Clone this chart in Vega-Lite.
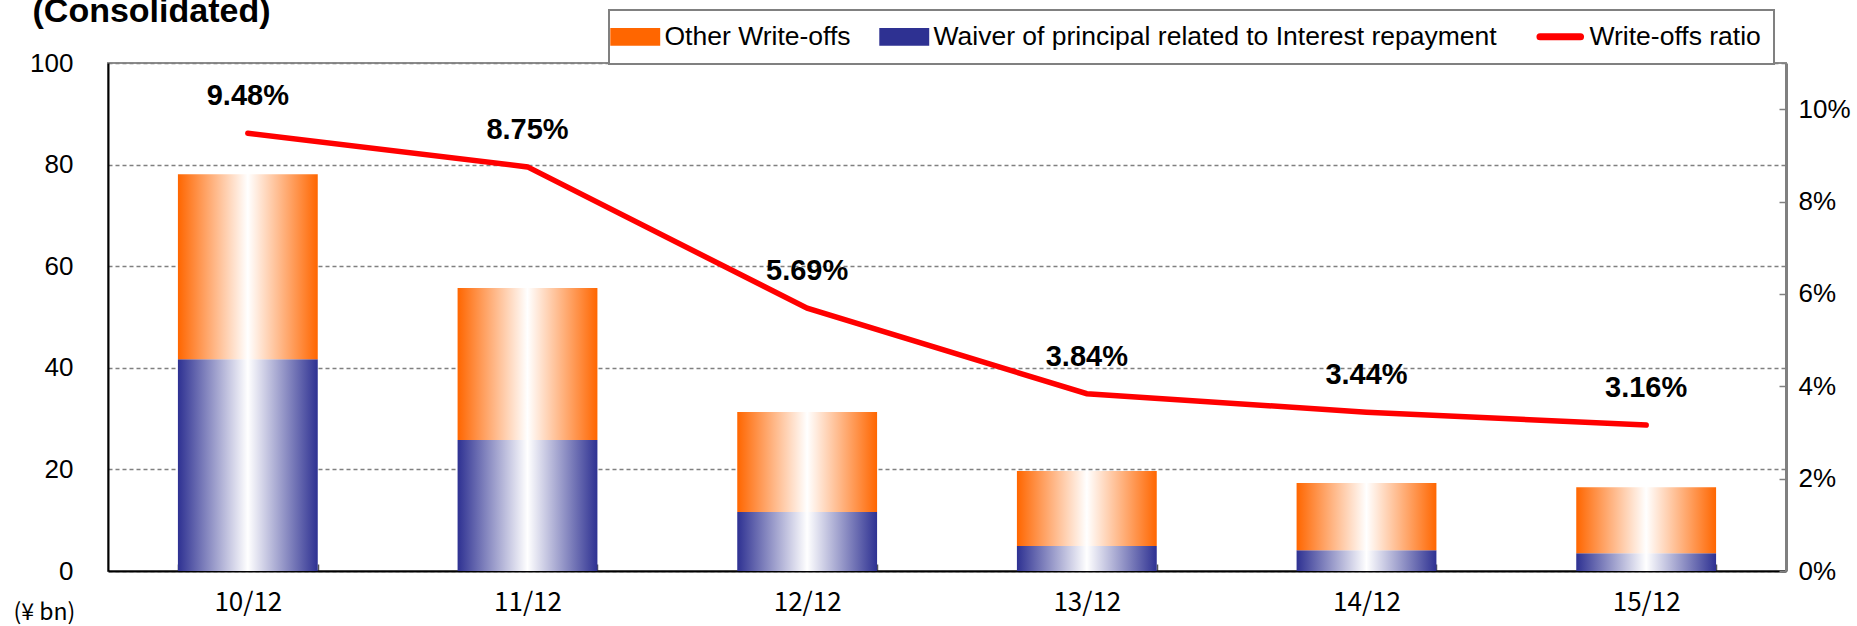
{
  "$schema": "https://vega.github.io/schema/vega-lite/v6.json",
  "width": 1678,
  "height": 508,
  "autosize": {"type": "none"},
  "padding": {"left": 108, "top": 63, "right": 71, "bottom": 55},
  "background": "white",
  "config": {
    "view": {"stroke": "#8c8c8c", "strokeWidth": 2},
    "font": "Liberation Sans"
  },
  "datasets": {
    "bars": [
      {"year": "10/12", "series": "Waiver of principal related to Interest repayment", "value": 41.7},
      {"year": "10/12", "series": "Other Write-offs", "value": 36.4},
      {"year": "11/12", "series": "Waiver of principal related to Interest repayment", "value": 25.8},
      {"year": "11/12", "series": "Other Write-offs", "value": 29.9},
      {"year": "12/12", "series": "Waiver of principal related to Interest repayment", "value": 11.6},
      {"year": "12/12", "series": "Other Write-offs", "value": 19.7},
      {"year": "13/12", "series": "Waiver of principal related to Interest repayment", "value": 4.9},
      {"year": "13/12", "series": "Other Write-offs", "value": 14.8},
      {"year": "14/12", "series": "Waiver of principal related to Interest repayment", "value": 4.1},
      {"year": "14/12", "series": "Other Write-offs", "value": 13.2},
      {"year": "15/12", "series": "Waiver of principal related to Interest repayment", "value": 3.5},
      {"year": "15/12", "series": "Other Write-offs", "value": 13.0}
    ],
    "ratio": [
      {"year": "10/12", "series": "Write-offs ratio", "ratio": 0.0948},
      {"year": "11/12", "series": "Write-offs ratio", "ratio": 0.0875},
      {"year": "12/12", "series": "Write-offs ratio", "ratio": 0.0569},
      {"year": "13/12", "series": "Write-offs ratio", "ratio": 0.0384},
      {"year": "14/12", "series": "Write-offs ratio", "ratio": 0.0344},
      {"year": "15/12", "series": "Write-offs ratio", "ratio": 0.0316}
    ]
  },
  "layer": [
    {
      "data": {"name": "bars"},
      "mark": {"type": "bar"},
      "encoding": {
        "x": {
          "field": "year",
          "type": "nominal",
          "sort": null,
          "scale": {"paddingInner": 0.5, "paddingOuter": 0.25},
          "axis": {
            "title": null,
            "labelAngle": 0,
            "labelFont": "Noto Sans CJK JP",
            "labelFontSize": 26,
            "labelColor": "#000000",
            "labelPadding": 25,
            "tickBand": "extent",
            "tickSize": -7,
            "tickColor": "#555555",
            "tickWidth": 1.5,
            "domainColor": "#000000",
            "domainWidth": 2
          }
        },
        "y": {
          "field": "value",
          "type": "quantitative",
          "aggregate": "sum",
          "stack": "zero",
          "scale": {"domain": [0, 100], "nice": false},
          "axis": {
            "orient": "left",
            "values": [0, 20, 40, 60, 80, 100],
            "title": "(¥ bn)",
            "titleAngle": 0,
            "titleX": -95,
            "titleY": 549,
            "titleAlign": "left",
            "titleBaseline": "middle",
            "titleFont": "Noto Sans CJK JP",
            "titleFontSize": 23,
            "titleFontWeight": "normal",
            "titleColor": "#000000",
            "labelFont": "Liberation Sans",
            "labelFontSize": 26,
            "labelColor": "#000000",
            "labelPadding": 35,
            "ticks": false,
            "domainColor": "#000000",
            "domainWidth": 2,
            "grid": true,
            "gridDash": [4, 3],
            "gridColor": "#808080",
            "gridWidth": 1.5
          }
        },
        "color": {
          "field": "series",
          "type": "nominal",
          "condition": [
            {"test": "datum.series === 'Other Write-offs'", "value": {"gradient": "linear", "x1": 0, "y1": 0, "x2": 1, "y2": 0, "stops": [{"offset": 0, "color": "#FF6600"}, {"offset": 0.5, "color": "#FFFFFF"}, {"offset": 1, "color": "#FF6600"}]}},
            {"test": "datum.series === 'Waiver of principal related to Interest repayment'", "value": {"gradient": "linear", "x1": 0, "y1": 0, "x2": 1, "y2": 0, "stops": [{"offset": 0, "color": "#2E3192"}, {"offset": 0.5, "color": "#FFFFFF"}, {"offset": 1, "color": "#2E3192"}]}}
          ],
          "scale": {
            "domain": ["Other Write-offs", "Waiver of principal related to Interest repayment", "Write-offs ratio"],
            "range": ["#FF6600", "#2E3192", "#FF0000"]
          },
          "legend": {
            "orient": "none",
            "legendX": 501,
            "legendY": -53,
            "direction": "horizontal",
            "columns": 3,
            "title": null,
            "symbolSize": 2704,
            "labelFont": "Liberation Sans",
            "labelFontSize": 26.5,
            "labelColor": "#000000",
            "labelLimit": 1000,
            "labelOffset": 16,
            "columnPadding": 28,
            "padding": 13,
            "strokeColor": "#808080",
            "fillColor": "#FFFFFF",
            "encode": {
              "symbols": {
                "update": {
                  "shape": {"signal": "datum.value === 'Write-offs ratio' ? 'M-0.78,0H0.78' : 'M-0.96,-0.34H0.96V0.34H-0.96Z'"},
                  "fill": [
                    {"test": "datum.value === 'Other Write-offs'", "value": {"gradient": "linear", "x1": 0, "y1": 0, "x2": 1, "y2": 0, "stops": [{"offset": 0, "color": "#FF6600"}, {"offset": 0.5, "color": "#FFFFFF"}, {"offset": 1, "color": "#FF6600"}]}},
                    {"test": "datum.value === 'Waiver of principal related to Interest repayment'", "value": {"gradient": "linear", "x1": 0, "y1": 0, "x2": 1, "y2": 0, "stops": [{"offset": 0, "color": "#2E3192"}, {"offset": 0.5, "color": "#FFFFFF"}, {"offset": 1, "color": "#2E3192"}]}},
                    {"value": "transparent"}
                  ],
                  "stroke": {"scale": "color", "field": "value"},
                  "strokeWidth": {"signal": "datum.value === 'Write-offs ratio' ? 7 : 0"},
                  "strokeCap": {"value": "round"},
                  "opacity": {"value": 1},
                  "fillOpacity": {"value": 1},
                  "strokeOpacity": {"value": 1}
                }
              },
              "legend": {
                "update": {"strokeWidth": {"value": 2}}
              }
            }
          }
        },
        "order": {"field": "series", "sort": "descending"}
      }
    },
    {
      "data": {"name": "ratio"},
      "encoding": {
        "x": {"field": "year", "type": "nominal", "sort": null},
        "y": {
          "field": "ratio",
          "type": "quantitative",
          "scale": {"domain": [0, 0.11], "nice": false},
          "axis": {
            "orient": "right",
            "values": [0, 0.02, 0.04, 0.06, 0.08, 0.1],
            "format": ".0%",
            "title": "(Consolidated)",
            "titleAngle": 0,
            "titleX": -1754,
            "titleY": -42,
            "titleAlign": "left",
            "titleBaseline": "alphabetic",
            "titleFont": "Liberation Sans",
            "titleFontSize": 34,
            "titleFontWeight": "bold",
            "titleColor": "#000000",
            "labelFont": "Liberation Sans",
            "labelFontSize": 26,
            "labelColor": "#000000",
            "labelPadding": 19,
            "tickSize": -7,
            "tickColor": "#808080",
            "tickWidth": 1.5,
            "domainColor": "#808080",
            "domainWidth": 3,
            "grid": false
          }
        }
      },
      "layer": [
        {
          "mark": {"type": "line", "strokeWidth": 5.5, "strokeCap": "round"},
          "encoding": {
            "color": {"field": "series", "type": "nominal"}
          }
        },
        {
          "mark": {"type": "text", "font": "Liberation Sans", "fontWeight": "bold", "fontSize": 29, "dy": -37, "baseline": "middle", "color": "#000000"},
          "encoding": {
            "text": {"field": "ratio", "type": "quantitative", "format": ".2%"}
          }
        }
      ]
    }
  ],
  "resolve": {"scale": {"y": "independent"}}
}
